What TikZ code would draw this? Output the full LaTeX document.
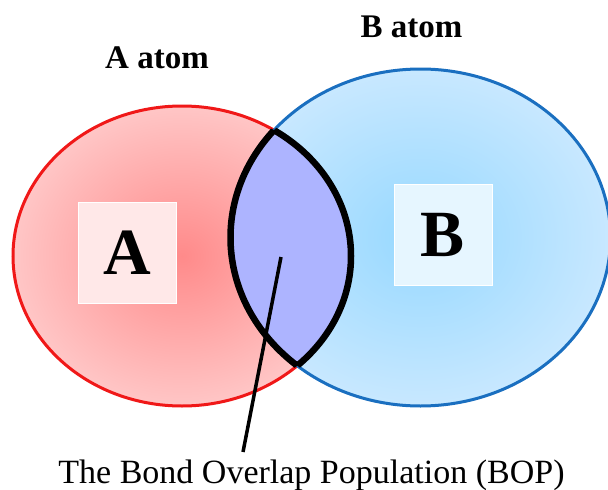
\documentclass[tikz,border=0pt]{standalone}
\usepackage{fontspec}
\setmainfont{Liberation Serif}
\definecolor{acenter}{HTML}{FF8A8A}
\definecolor{aedge}{HTML}{FFC6C6}
\definecolor{aline}{HTML}{F01818}
\definecolor{bcenter}{HTML}{96D8FF}
\definecolor{bedge}{HTML}{C8E8FF}
\definecolor{bline}{HTML}{1A6FC0}
\definecolor{lensfill}{HTML}{ADB4FF}
\definecolor{aboxfill}{HTML}{FFE8E8}
\definecolor{bboxfill}{HTML}{E6F6FF}
\tikzset{
  lbl/.style={font=\bfseries\fontsize{33}{36}\selectfont, inner sep=0pt, anchor=base},
  caption/.style={font=\fontsize{34}{37}\selectfont, inner sep=0pt, anchor=base},
  letterbox/.style={minimum width=98pt, minimum height=101pt, inner sep=0pt, draw=white, line width=1pt, font=\bfseries\fontsize{66}{70}\selectfont},
  atomA/.style={insert path={(182,256) ellipse [x radius=169pt, y radius=150pt]}},
  atomB/.style={insert path={(420.5,237.5) ellipse [x radius=190pt, y radius=168.5pt]}},
}
\begin{document}
\begin{tikzpicture}[x=1pt,y=-1pt]
\useasboundingbox (0,0) rectangle (608,490);
\fill[white] (0,0) rectangle (608,490);
% atom fills
\shade[inner color=acenter, outer color=aedge, atomA];
\shade[inner color=bcenter, outer color=bedge, atomB];
% overlap lens
\begin{scope}
  \clip[atomA];
  \fill[lensfill, atomB];
\end{scope}
% outlines
\draw[aline, line width=3pt, atomA];
\draw[bline, line width=3pt, atomB];
\begin{scope}
  \clip[atomA];
  \draw[black, line width=6.5pt, atomB];
\end{scope}
\begin{scope}
  \clip[atomB];
  \draw[black, line width=6.5pt, atomA];
\end{scope}
% letter boxes
\node[letterbox, fill=aboxfill] (boxA) at (127,253) {A};
\node[letterbox, fill=bboxfill] (boxB) at (443,235) {B};
% labels
\node[lbl] (labA) at (157,68) {A atom};
\node[lbl] (labB) at (411.5,37) {B atom};
\node[caption] (bop) at (311.5,483) {The Bond Overlap Population (BOP)};
% connector
\coordinate (bopin) at (281,257);
\coordinate (bopend) at (243,452);
\draw[black, line width=3.5pt] (bopin) -- (bopend);
\end{tikzpicture}
\end{document}
